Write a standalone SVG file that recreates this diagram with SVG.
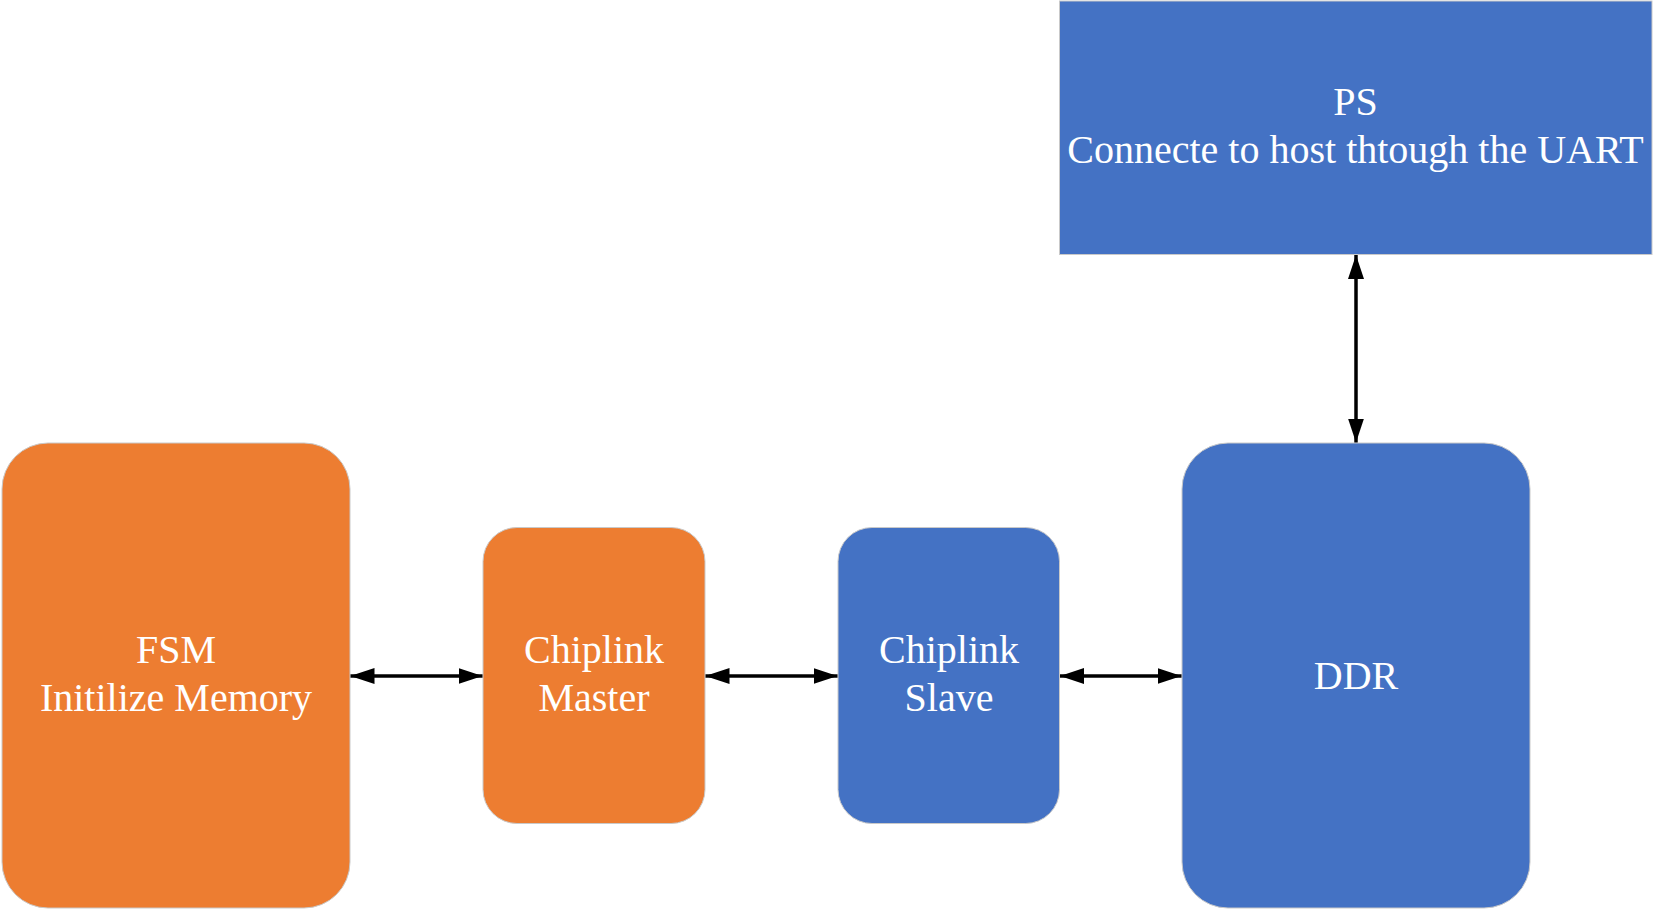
<svg xmlns="http://www.w3.org/2000/svg" width="1666" height="909" viewBox="0 0 1666 909">
<style>
.orange{fill:#ED7D31;stroke:#C9C9C9;stroke-width:1}
.blue{fill:#4472C4;stroke:#C9C9C9;stroke-width:1}
.lbl{font-family:"Liberation Serif","Times New Roman",serif;font-size:40px;fill:#FFFFFF;text-anchor:middle}
.conn{stroke:#000;stroke-width:3.5;fill:none;marker-start:url(#ah);marker-end:url(#ah)}
</style>
<defs>
<marker id="ah" viewBox="0 0 24 16" refX="24" refY="8" markerWidth="24" markerHeight="16" markerUnits="userSpaceOnUse" orient="auto-start-reverse">
<path d="M0,0 L24,8 L0,16 Z" fill="#000"/>
</marker>
</defs>
<rect width="1666" height="909" fill="#FFFFFF"/>
<g id="ps">
<rect class="blue" x="1059.5" y="1" width="592.5" height="253.5"/>
<text class="lbl" x="1355.5" y="115">PS</text>
<text class="lbl" x="1355.5" y="163">Connecte to host thtough the UART</text>
</g>
<g id="fsm">
<rect class="orange" x="2" y="443" width="348" height="465" rx="46" ry="46"/>
<text class="lbl" x="176" y="663">FSM</text>
<text class="lbl" x="176" y="711">Initilize Memory</text>
</g>
<g id="master">
<rect class="orange" x="483" y="527.5" width="222" height="296" rx="34" ry="34"/>
<text class="lbl" x="594" y="663">Chiplink</text>
<text class="lbl" x="594" y="711">Master</text>
</g>
<g id="slave">
<rect class="blue" x="838" y="527.5" width="221.5" height="296" rx="34" ry="34"/>
<text class="lbl" x="949" y="663">Chiplink</text>
<text class="lbl" x="949" y="711">Slave</text>
</g>
<g id="ddr">
<rect class="blue" x="1182" y="443" width="348" height="465" rx="46" ry="46"/>
<text class="lbl" x="1356" y="689">DDR</text>
</g>
<g id="connectors">
<line class="conn" x1="350.5" y1="676" x2="482.5" y2="676"/>
<line class="conn" x1="705.5" y1="676" x2="837.5" y2="676"/>
<line class="conn" x1="1060" y1="676" x2="1181.5" y2="676"/>
<line class="conn" x1="1356" y1="255" x2="1356" y2="442.5"/>
</g>
</svg>
